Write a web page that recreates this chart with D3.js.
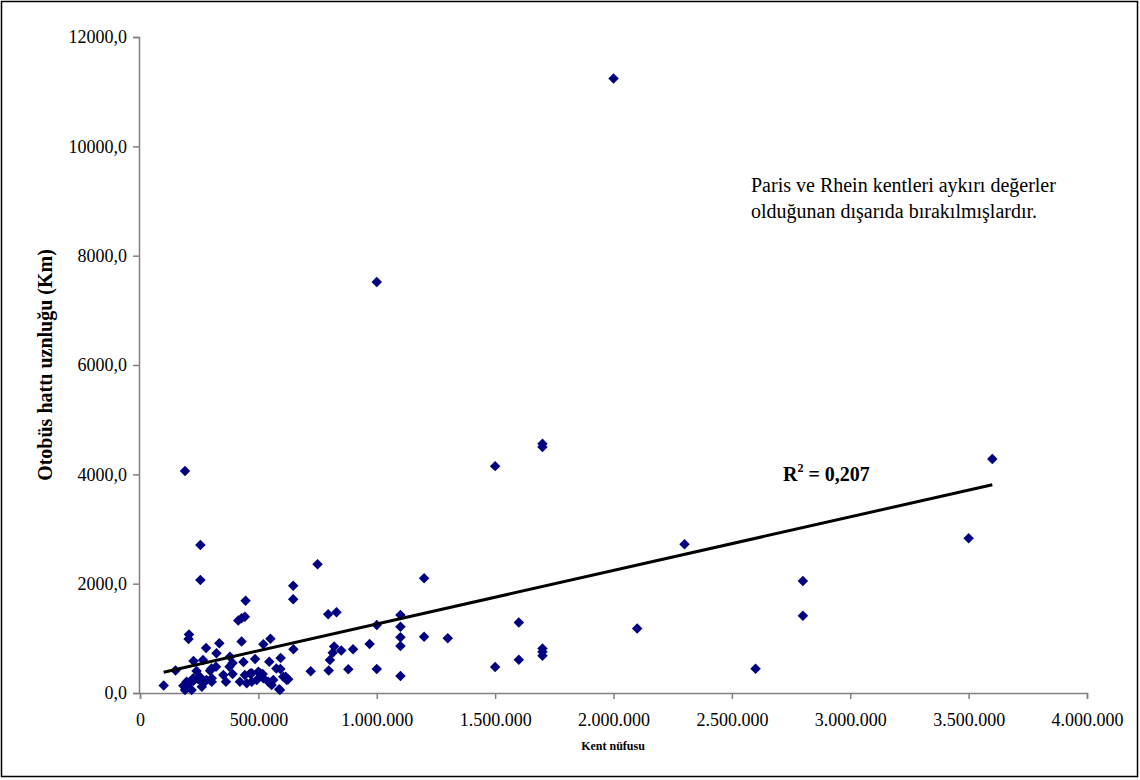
<!DOCTYPE html>
<html>
<head>
<meta charset="utf-8">
<script src="https://cdn.jsdelivr.net/npm/d3@7"></script>
<style>
  body { margin: 0; background: #fff; }
  svg { font-family: "Liberation Serif", "Times New Roman", serif; }
  .tick text { font-size: 18px; fill: #000; }
</style>
</head>
<body>
<svg id="chart" width="1140" height="780"></svg>
<script>
// [kent nüfusu, otobüs hattı uzunluğu (km)]
var points = [
	[2000000, 11240], [1000000, 7520], [190000, 4060], [1500000, 4150],
	[1700000, 4560], [1700000, 4500], [3600000, 4280], [3500000, 2830],
	[2300000, 2720], [2800000, 2050], [2800000, 1415], [2100000, 1180],
	[2600000, 445], [1600000, 1290], [1600000, 610], [1500000, 476],
	[1700000, 816], [1700000, 756], [1700000, 683],
	[1200000, 2100], [1200000, 1030], [1300000, 1000],
	[1100000, 1427], [1100000, 1213], [1100000, 1019], [1100000, 860], [1100000, 311],
	[1000000, 1244], [1000000, 439], [970000, 897], [900000, 800], [850000, 778],
	[880000, 436], [820000, 851], [814000, 737], [802000, 604], [797000, 412],
	[795000, 1440], [830000, 1477], [750000, 2355], [647000, 1963], [647000, 1715],
	[648000, 800], [721000, 397], [255000, 2708], [255000, 2068], [446000, 1689],
	[415000, 1327], [429000, 1367], [443000, 1396], [207000, 1071], [205000, 988],
	[429000, 942], [551000, 994], [521000, 891], [279000, 824], [335000, 909],
	[323000, 727], [226000, 586], [266000, 604], [380000, 664], [391000, 549],
	[437000, 567], [486000, 622], [546000, 573], [594000, 640], [150000, 412],
	[239000, 403], [302000, 448], [321000, 481], [296000, 408], [378000, 481],
	[352000, 329], [391000, 348], [443000, 329], [465000, 357], [500000, 390],
	[518000, 348], [576000, 448], [593000, 439], [615000, 298], [472000, 360],
	[507000, 360], [521000, 269], [493000, 238], [563000, 238], [556000, 146],
	[588000, 68], [605000, 298], [620000, 238], [100000, 137], [183000, 134],
	[204000, 178], [225000, 220], [246000, 251], [267000, 178], [261000, 115],
	[197000, 86], [303000, 207], [363000, 207], [422000, 207], [451000, 178],
	[472000, 207], [542000, 207], [591000, 55], [626000, 251], [190000, 55],
	[225000, 269], [253000, 298], [281000, 238], [303000, 269], [218000, 55],
	[197000, 207]
];

var trend = [[100000, 380], [3600000, 3810]];
var rSquared = "0,207";

var xTicks = [0, 500000, 1000000, 1500000, 2000000, 2500000, 3000000, 3500000, 4000000];
var yTicks = [0, 2000, 4000, 6000, 8000, 10000, 12000];

var noteLines = ["Paris ve Rhein kentleri aykırı değerler", "olduğunan dışarıda bırakılmışlardır."];

var svg = d3.select("#chart");

// outer frame
svg.append("rect")
	.attr("x", 1.5).attr("y", 1.5)
	.attr("width", 1136).attr("height", 775)
	.attr("fill", "none")
	.attr("stroke", "#000")
	.attr("stroke-width", 1.5);

var x = d3.scaleLinear().domain([0, 4000000]).range([140, 1087]);
var y = d3.scaleLinear().domain([0, 12000]).range([693, 37]);

var trFmt = d3.formatLocale({decimal: ",", thousands: ".", grouping: [3]});
var xFmt = trFmt.format(",d");
var yFmt = trFmt.format(".1f");

var xAxis = svg.append("g")
	.attr("transform", "translate(0,693)")
	.call(d3.axisBottom(x).tickValues(xTicks).tickFormat(xFmt).tickSize(6).tickPadding(14));

var yAxis = svg.append("g")
	.attr("transform", "translate(139,0)")
	.call(d3.axisLeft(y).tickValues(yTicks).tickFormat(yFmt).tickSize(6).tickPadding(6));

[xAxis, yAxis].forEach(function(a) {
	a.select(".domain").attr("stroke", "#808080").attr("stroke-width", 1.5);
	a.selectAll(".tick line").attr("stroke", "#808080").attr("stroke-width", 1.5);
	a.attr("font-family", null).attr("font-size", null);
});

// points
svg.append("g").selectAll("path")
	.data(points)
	.enter()
	.append("path")
	.attr("transform", d => "translate(" + x(d[0]) + "," + y(d[1]) + ")")
	.attr("d", d3.symbol().type(d3.symbolDiamond2).size(70))
	.attr("fill", "#000080");

// trend line
svg.append("line")
	.attr("x1", x(trend[0][0])).attr("y1", y(trend[0][1]))
	.attr("x2", x(trend[1][0])).attr("y2", y(trend[1][1]))
	.attr("stroke", "#000")
	.attr("stroke-width", 3);

// R² label
var r2 = svg.append("text")
	.attr("x", 783).attr("y", 481)
	.attr("font-size", 20)
	.attr("font-weight", "bold");
r2.append("tspan").text("R");
r2.append("tspan").attr("font-size", 12).attr("dy", -9).text("2");
r2.append("tspan").attr("dy", 9).text(" = " + rSquared);

// note
svg.append("g").selectAll("text")
	.data(noteLines)
	.enter()
	.append("text")
	.attr("x", 751)
	.attr("y", (d, i) => 192 + i * 26)
	.attr("font-size", 20)
	.text(d => d);

// axis titles
svg.append("text")
	.attr("transform", "translate(52,365) rotate(-90)")
	.attr("text-anchor", "middle")
	.attr("font-size", 20)
	.attr("font-weight", "bold")
	.text("Otobüs hattı uznluğu (Km)");

svg.append("text")
	.attr("x", 613).attr("y", 750)
	.attr("text-anchor", "middle")
	.attr("font-size", 12)
	.attr("font-weight", "bold")
	.text("Kent nüfusu");
</script>
</body>
</html>
